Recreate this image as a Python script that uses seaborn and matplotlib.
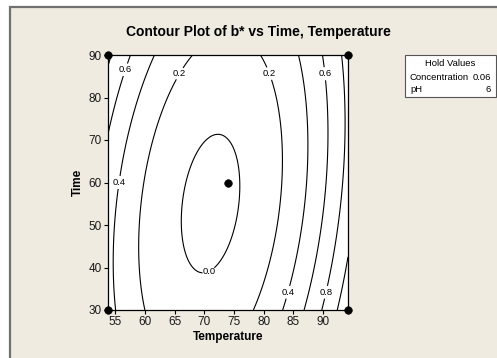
import numpy as np
import pandas as pd
import matplotlib
matplotlib.use("Agg")
import matplotlib.pyplot as plt
import seaborn as sns
from matplotlib.patches import Rectangle

# fitted response surface for b* in coded units
# (Temperature = 74 +/- 20, Time = 60 +/- 30), Concentration and pH held
coef_const = -0.0246
coef_temp = 0.179
coef_time = 0.0239
coef_temp2 = 0.70
coef_time2 = 0.1438
coef_temp_time = -0.161
temp_center, temp_half = 74.0, 20.0
time_center, time_half = 60.0, 30.0

levels = [0.0, 0.2, 0.4, 0.6, 0.8, 1.0]

# design points shown as dots
design_temp = [53.8, 53.8, 94.2, 94.2, 74.0]
design_time = [30, 90, 30, 90, 60]

temp_range = (53.8, 94.2)
time_range = (30, 90)
x_ticks = [55, 60, 65, 70, 75, 80, 85, 90]
y_ticks = [30, 40, 50, 60, 70, 80, 90]

hold_names = ["Concentration", "pH"]
hold_values = ["0.06", "6"]

# where the contour labels sit
label_spots = [(56.8, 86.5), (65.9, 85.6), (80.9, 85.6), (90.4, 85.6),
               (55.7, 60), (70.6, 39.6), (84.0, 34.2), (90.4, 34.2)]

sns.set_style("white")
plt.rcParams["font.family"] = ["Liberation Sans", "DejaVu Sans"]
plt.rcParams["text.color"] = "black"
plt.rcParams["axes.labelcolor"] = "black"

W, H = 497, 358
fig = plt.figure(figsize=(W / 100, H / 100), dpi=100, facecolor="white")
fig.patches.append(Rectangle((10 / W, -0.1), 1.2, 1.1 - 7 / H, transform=fig.transFigure,
                             facecolor="#EFEBE1", edgecolor="#707070", lw=1.6, zorder=-10))

ax = fig.add_axes([108 / W, 1 - 310 / H, 240 / W, 255 / H])
ax.set_facecolor("white")

temps = np.linspace(temp_range[0], temp_range[1], 300)
times = np.linspace(time_range[0], time_range[1], 300)
T, t = np.meshgrid(temps, times)
x = (T - temp_center) / temp_half
y = (t - time_center) / time_half
Z = (coef_const + coef_temp * x + coef_time * y + coef_temp2 * x ** 2
     + coef_time2 * y ** 2 + coef_temp_time * x * y)

cs = ax.contour(T, t, Z, levels=levels, colors="black", linewidths=0.8)
labels = ax.clabel(cs, fmt="%.1f", fontsize=6.8, inline=True, inline_spacing=0, manual=label_spots)
for lab in labels:
    lab.set_rotation(0)

pts = pd.DataFrame({"Temperature": design_temp, "Time": design_time})
sns.scatterplot(data=pts, x="Temperature", y="Time", color="black", s=30,
                edgecolor="black", ax=ax, clip_on=False, zorder=5)

ax.set_xlim(temp_range)
ax.set_ylim(time_range)
ax.set_xticks(x_ticks)
ax.set_yticks(y_ticks)
ax.tick_params(axis="both", direction="out", length=3, width=0.8, color="black",
               labelsize=8.5, pad=1.5, labelcolor="#1a1a1a")
ax.tick_params(left=True, bottom=True)
for s in ax.spines.values():
    s.set_color("black")
    s.set_linewidth(0.9)
ax.set_xlabel("Temperature", fontsize=8.5, fontweight="bold", labelpad=2)
ax.set_ylabel("Time", fontsize=8.5, fontweight="bold", labelpad=3)

fig.text(258 / W, 1 - 32 / H, "Contour Plot of b* vs Time, Temperature", ha="center", va="center",
         fontsize=10, fontweight="bold")

# hold values box
fig.patches.append(Rectangle((405 / W, 1 - 97 / H), 91 / W, 42 / H, transform=fig.transFigure,
                             facecolor="white", edgecolor="#555555", lw=0.8))
fig.text(450 / W, 1 - 64 / H, "Hold Values", ha="center", va="center", fontsize=6.8)
for i, (name, val) in enumerate(zip(hold_names, hold_values)):
    yy = 1 - (77 + 13 * i) / H
    fig.text(410 / W, yy, name, ha="left", va="center", fontsize=6.8)
    fig.text(491 / W, yy, val, ha="right", va="center", fontsize=6.8)

fig.savefig("out.png", dpi=100, facecolor=fig.get_facecolor())
